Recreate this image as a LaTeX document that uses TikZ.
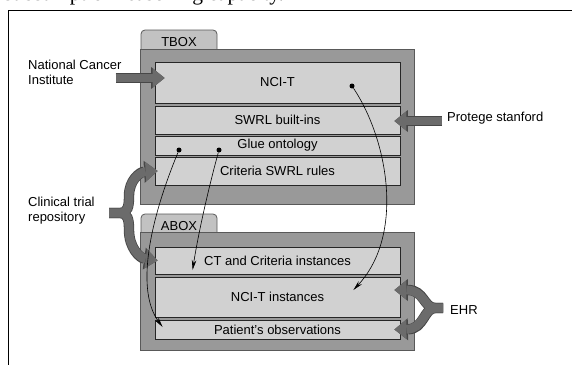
\documentclass[tikz,border=0pt]{standalone}
\usepackage{fontspec}
\setmainfont{Liberation Serif}
\setsansfont{Liberation Sans}
\usetikzlibrary{arrows.meta,positioning}

\definecolor{boxgray}{gray}{0.6}
\definecolor{rowgray}{gray}{0.82}
\definecolor{tabgray}{gray}{0.76}
\definecolor{fatgray}{gray}{0.42}

\begin{document}
\begin{tikzpicture}
[x=1pt, y=-1pt, font=\sffamily\fontsize{13}{15}\selectfont,
boxframe/.style={draw=black!65, fill=boxgray, line width=0.8pt, minimum width=274pt, inner sep=0pt},
tabbox/.style={draw=black!65, fill=tabgray, line width=0.8pt, rounded corners=4pt, minimum width=76pt, minimum height=24pt, inner sep=0pt},
rowbox/.style={draw=black!85, fill=rowgray, line width=0.8pt, minimum width=245pt, inner sep=0pt},
srclabel/.style={align=left, anchor=west, inner sep=0pt},
fatback/.style={draw=black!72, line width=10.4pt, -{Triangle[length=13.5pt,width=22pt,line width=0pt]}},
fatfront/.style={draw=fatgray, line width=8.8pt, -{Triangle[length=12pt,width=19.5pt,line width=0pt]}},
flowarrow/.style={-{Stealth[length=10pt,width=4.5pt]}, line width=0.6pt},
anchordot/.style={circle, fill=black, inner sep=0pt, minimum size=5pt}
]
  \useasboundingbox (0,0) rectangle (572,364);
  \fill[white] (0,0) rectangle (572,364);
  \draw[line width=0.9pt] (8,10) rectangle (620,420);
  \node[font=\rmfamily\fontsize{21.5}{22}\selectfont, anchor=base west, inner sep=0pt] (caption) at (4,1) {subsumption reasoning capacity.};

  % TBOX
  \node[tabbox] (ttab) at (179,42) {TBOX};
  \node[boxframe, minimum height=155pt] (tbox) at (277,126.5) {};
  \node[rowbox, minimum height=41pt] (nci)  at (277.5,82.5) {NCI-T};
  \node[rowbox, minimum height=28pt] (swrl) at (277.5,120)  {SWRL built-ins};
  \node[rowbox, minimum height=19pt] (glue) at (277.5,145.5) {Glue ontology};
  \node[rowbox, minimum height=28pt] (crit) at (277.5,171)  {Criteria SWRL rules};

  % ABOX
  \node[tabbox] (atab) at (179,226) {ABOX};
  \node[boxframe, minimum height=118pt] (abox) at (277,291) {};
  \node[rowbox, minimum height=27pt] (ctinst)  at (277.5,260.5) {CT and Criteria instances};
  \node[rowbox, minimum height=40pt] (nciinst) at (277.5,297)   {NCI-T instances};
  \node[rowbox, minimum height=19pt] (obs)     at (277.5,329.5) {Patient's observations};

  % sources
  \node[srclabel] (ncisrc) at (28,72.5) {National Cancer\\Institute};
  \node[srclabel] (crep)   at (28,210.5) {Clinical trial\\repository};
  \node[srclabel] (prot)   at (447,118) {Protege stanford};
  \node[srclabel] (ehr)    at (450,310) {EHR};
  \coordinate (crepfork) at (109,213);
  \coordinate (ehrfork)  at (443,308);

  \foreach \sty in {fatback,fatfront} {
    \draw[\sty] ([shift={(-6,5.5)}]ncisrc.east) -- ([shift={(10,-4.5)}]nci.west);
    \draw[\sty] ([shift={(-5,3)}]prot.west) -- ([shift={(-6,1)}]swrl.east);
    \draw[\sty] (crepfork) -- ++(11,0) .. controls (128,213) and (129,206) .. (129,196)
      .. controls (129,180) and (140,172) .. ([xshift=3pt]crit.west);
    \draw[\sty] (crepfork) -- ++(11,0) .. controls (128,213) and (129,220) .. (129,230)
      .. controls (129,248) and (140,258) .. ([xshift=3pt]ctinst.west);
    \draw[\sty] (ehrfork) -- ++(-8,0) .. controls (424,308) and (424,290) .. ([shift={(-6,-7)}]nciinst.east);
    \draw[\sty] (ehrfork) -- ++(-8,0) .. controls (424,308) and (424,329) .. ([xshift=-6pt]obs.east);
  }

  % reasoning links
  \node[anchordot] (d1) at (352,86) {};
  \node[anchordot] (d2) at (179,150) {};
  \node[anchordot] (d3) at (219,150) {};
  \draw[flowarrow] (d1) .. controls (388,140) and (405,235) .. ([shift={(-47,-7)}]nciinst.east);
  \draw[flowarrow] (d2) .. controls (150,220) and (135,290) .. ([shift={(8,-2.5)}]obs.west);
  \draw[flowarrow] (d3) .. controls (208,190) and (198,235) .. ([shift={(38,9.5)}]ctinst.west);
\end{tikzpicture}
\end{document}
